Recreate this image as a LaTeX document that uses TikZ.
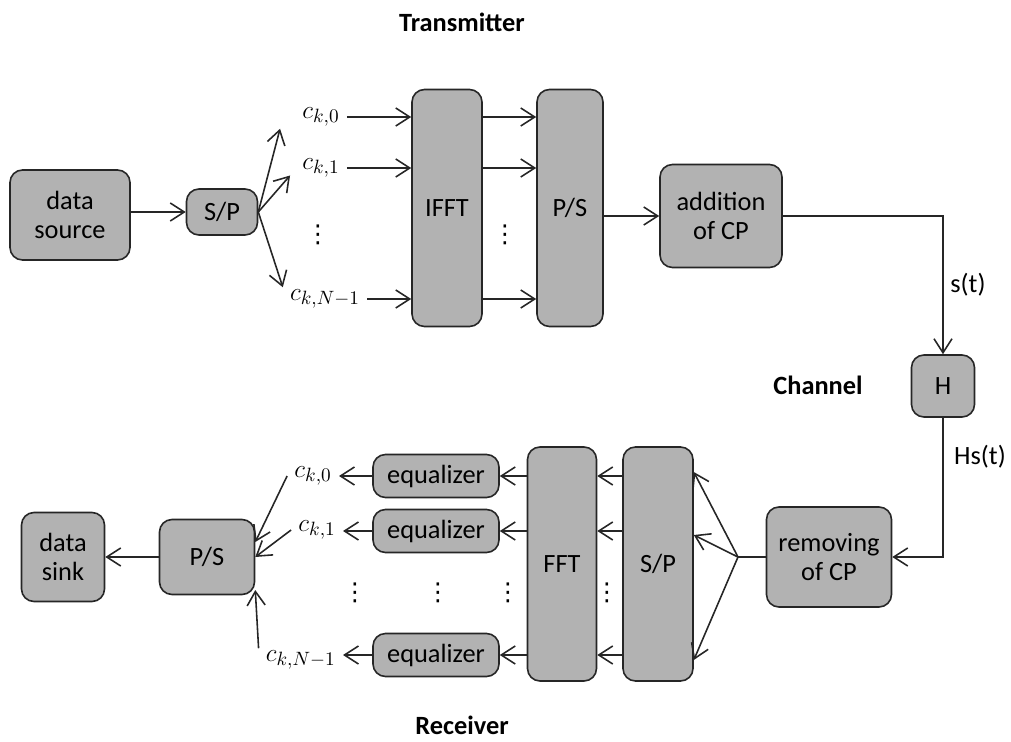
\documentclass[tikz,border=0pt]{standalone}
\usepackage{amsmath,amssymb}
\usepackage{fontspec}
\setmainfont{Carlito}
\newfontfamily\dotsfont{DejaVu Sans}
\usepackage{tikz}
\usetikzlibrary{arrows.meta}

\begin{document}
\begin{tikzpicture}[>={Straight Barb[length=2.8mm,width=3.6mm]},
  font=\fontsize{15}{17}\selectfont]
\tikzstyle{blk}=[draw=black!85, line width=0.9pt, rectangle, rounded corners=2.5mm,
fill=black!30, align=center, inner sep=1pt]
\tikzstyle{sym}=[font=\fontsize{15}{17}\selectfont, inner xsep=4pt, inner ysep=1pt]
\tikzstyle{vdt}=[font=\dotsfont\fontsize{14}{14}\selectfont, inner sep=0pt]
\tikzstyle{lnk}=[->, line width=0.9pt, draw=black!85]

\useasboundingbox (0,0) rectangle (20.22,-14.84);

% Transmitter
\node[font=\fontsize{15}{17}\selectfont\bfseries] (tx) at (9.24,-0.44) {Transmitter};
\node[blk, minimum width=2.4cm, minimum height=1.8cm] (src) at (1.4,-4.3) {data\\source};
\node[blk, minimum width=1.42cm, minimum height=0.92cm] (sp1) at (4.44,-4.24) {S/P};
\node[sym] (ck0) at (6.42,-2.34) {$c_{k,0}$};
\node[sym] (ck1) at (6.42,-3.36) {$c_{k,1}$};
\node[vdt] (dt1) at (6.36,-4.7) {⋮};
\node[sym] (ckN) at (6.5,-5.98) {$c_{k,N-1}$};
\node[blk, minimum width=1.4cm, minimum height=4.74cm] (ifft) at (8.94,-4.16) {IFFT};
\node[blk, minimum width=1.32cm, minimum height=4.74cm] (ps1) at (11.4,-4.16) {P/S};
\node[vdt] (dt2) at (10.1,-4.7) {⋮};
\node[blk, minimum width=2.44cm, minimum height=2.06cm] (addcp) at (14.42,-4.32) {addition\\of CP};

\draw[lnk] (src.east |- sp1) -- (sp1.west);
\draw[lnk] (sp1.east) -- ([xshift=-3mm]ck0.south west);
\draw[lnk] (sp1.east) -- ([xshift=-1mm,yshift=-1.5mm]ck1.west);
\draw[lnk] (sp1.east) -- (ckN.north west);
\draw[lnk] (ck0.east) -- (ck0.east -| ifft.west);
\draw[lnk] (ck1.east) -- (ck1.east -| ifft.west);
\draw[lnk] (ckN.east) -- (ckN.east -| ifft.west);
\draw[lnk] (ifft.east |- ck0) -- (ps1.west |- ck0);
\draw[lnk] (ifft.east |- ck1) -- (ps1.west |- ck1);
\draw[lnk] (ifft.east |- ckN) -- (ps1.west |- ckN);
\draw[lnk] (ps1.east |- addcp) -- (addcp.west);

% Channel
\node[font=\fontsize{15}{17}\selectfont\bfseries] (chn) at (16.36,-7.7) {Channel};
\node[blk, minimum width=1.26cm, minimum height=1.24cm] (hch) at (18.86,-7.72) {H};
\node (st) at (19.36,-5.7) {s(t)};
\node (hst) at (19.6,-9.14) {Hs(t)};
\draw[lnk] (addcp.east) -| (hch.north);

% Receiver
\node[blk, minimum width=2.5cm, minimum height=2cm] (rmcp) at (16.58,-11.14) {removing\\of CP};
\coordinate (jn) at (14.76,-11.14);
\node[blk, minimum width=1.4cm, minimum height=4.68cm] (rsp) at (13.16,-11.28) {S/P};
\node[blk, minimum width=1.38cm, minimum height=4.68cm] (fft) at (11.24,-11.28) {FFT};
\node[blk, minimum width=2.52cm, minimum height=0.86cm] (eq0) at (8.72,-9.52) {equalizer};
\node[blk, minimum width=2.52cm, minimum height=0.86cm] (eq1) at (8.72,-10.62) {equalizer};
\node[blk, minimum width=2.52cm, minimum height=0.86cm] (eqN) at (8.72,-13.1) {equalizer};
\node[sym, anchor=east] (rck0) at (6.78,-9.52) {$c_{k,0}$};
\node[sym, anchor=east] (rck1) at (6.86,-10.6) {$c_{k,1}$};
\node[sym, anchor=east] (rckN) at (6.86,-13.2) {$c_{k,N-1}$};
\node[vdt] (dt3) at (7.1,-11.86) {⋮};
\node[vdt] (dt4) at (8.76,-11.86) {⋮};
\node[vdt] (dt5) at (10.16,-11.86) {⋮};
\node[vdt] (dt6) at (12.14,-11.86) {⋮};
\node[blk, minimum width=1.9cm, minimum height=1.5cm] (ps2) at (4.14,-11.14) {P/S};
\node[blk, minimum width=1.66cm, minimum height=1.78cm] (sink) at (1.26,-11.14) {data\\sink};
\node[font=\fontsize{15}{17}\selectfont\bfseries] (rx) at (9.24,-14.5) {Receiver};

\draw[lnk] (hch.south) |- (rmcp.east);
\draw[line width=0.9pt, draw=black!85] (rmcp.west) -- (jn);
\draw[lnk] (jn) -- ([yshift=1.84cm]rsp.east);
\draw[lnk] (jn) -- ([yshift=0.58cm]rsp.east);
\draw[lnk] (jn) -- ([yshift=-1.92cm]rsp.east);
\draw[lnk] (rsp.west |- eq0) -- (fft.east |- eq0);
\draw[lnk] (rsp.west |- eq1) -- (fft.east |- eq1);
\draw[lnk] (rsp.west |- eqN) -- (fft.east |- eqN);
\draw[lnk] (fft.west |- eq0) -- (eq0.east);
\draw[lnk] (fft.west |- eq1) -- (eq1.east);
\draw[lnk] (fft.west |- eqN) -- (eqN.east);
\draw[lnk] (eq0.west) -- (eq0.west -| rck0.east);
\draw[lnk] (eq1.west) -- (eq1.west -| rck1.east);
\draw[lnk] (eqN.west) -- (eqN.west -| rckN.east);
\draw[lnk] (rck0.west) -- ([yshift=3mm]ps2.east);
\draw[lnk] (rck1.west) -- (ps2.east);
\draw[lnk] (rckN.north west) -- ([yshift=-6.6mm]ps2.east);
\draw[lnk] (ps2.west) -- (sink.east);

\end{tikzpicture}
\end{document}
